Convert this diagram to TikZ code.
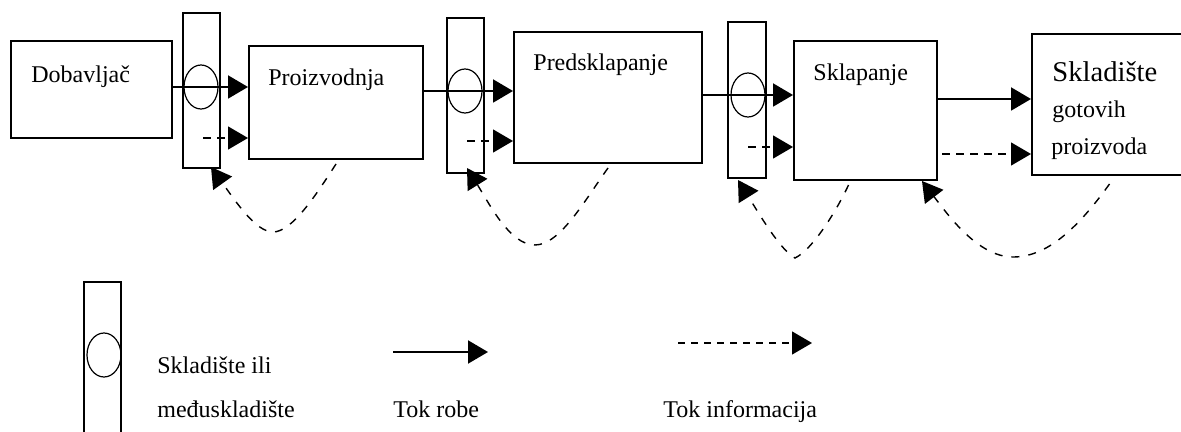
\documentclass[tikz,border=0pt]{standalone}
\usepackage{fontspec}
\setmainfont{Liberation Serif}
\usetikzlibrary{arrows.meta,shapes.geometric}
\begin{document}
\begin{tikzpicture}[x=0.5pt,y=-0.5pt,
  box/.style={draw,line width=1pt,inner sep=0pt},
  store/.style={draw,line width=1pt,inner sep=0pt,minimum width=18.5pt,minimum height=77.5pt},
  bin/.style={draw,ellipse,line width=0.6pt,inner sep=0pt,minimum width=17pt,minimum height=22pt},
  lbl/.style={anchor=base west,inner sep=0pt,font=\fontsize{12}{14}\selectfont},
  biglbl/.style={anchor=base west,inner sep=0pt,font=\fontsize{14.3}{16}\selectfont},
  goods/.style={line width=1pt,-{Triangle[length=10pt,width=11.5pt]}},
  info/.style={line width=0.7pt,dash pattern=on 4pt off 3pt,-{Triangle[length=10pt,width=11.5pt]}},
  loop/.style={line width=0.7pt,dash pattern=on 4pt off 4.5pt,-{Triangle[length=10pt,width=11.5pt]}}
]
\useasboundingbox (0,0) rectangle (1181,432);

% storages (drawn first)
\node[store] (s1) at (201.5,90.5) {};
\node[store] (s2) at (465,95.5) {};
\node[store,minimum width=19pt,minimum height=78pt] (s3) at (747,100) {};
\node[store,minimum height=79pt] (sl) at (102.5,361) {};
\node[bin] (c1) at (201,87) {};
\node[bin] (c2) at (465,91) {};
\node[bin] (c3) at (748,95) {};
\node[bin] (cl) at (104,355) {};

% process boxes
\node[box,minimum width=80.5pt,minimum height=48.5pt] (dob) at (91.5,89.5) {};
\node[box,minimum width=87pt,minimum height=56.5pt] (pro) at (336,102.5) {};
\node[box,minimum width=94pt,minimum height=65.5pt] (pre) at (608,97.5) {};
\node[box,minimum width=71.5pt,minimum height=69.5pt] (skl) at (865.5,110.5) {};
\node[box,minimum width=75.5pt,minimum height=70.5pt] (got) at (1107.5,104.5) {};

% texts
\node[lbl] (tdob) at (31,83) {Dobavljač};
\node[lbl] (tpro) at (268,86) {Proizvodnja};
\node[lbl] (tpre) at (533,71) {Predsklapanje};
\node[lbl] (tskl) at (813,81) {Sklapanje};
\node[biglbl] (tgot1) at (1052,82) {Skladište};
\node[lbl] (tgot2) at (1052,118) {gotovih};
\node[lbl] (tgot3) at (1051,155) {proizvoda};

% flow of goods
\coordinate (g4) at (0,99);
\draw[goods] (dob.east |- c1) -- (pro.west |- c1);
\draw[goods] (pro.east |- c2) -- (pre.west |- c2);
\draw[goods] (pre.east |- c3) -- (skl.west |- c3);
\draw[goods] (skl.east |- g4) -- (got.west |- g4);

% flow of information (short)
\coordinate (i1) at (203,138);
\coordinate (i2) at (467,141);
\coordinate (i3) at (748,147);
\coordinate (i4) at (942,154);
\draw[info] (i1) -- (pro.west |- i1);
\draw[info] (i2) -- (pre.west |- i2);
\draw[info] (i3) -- (skl.west |- i3);
\draw[info] (i4) -- (got.west |- i4);

% feedback loops
\coordinate (e1) at (211,167);
\coordinate (e2) at (467,168);
\coordinate (e3) at (738,180);
\coordinate (e4) at (922,181);
\draw[loop] ([yshift=-2pt]pro.south) .. controls (316,195) and (292,232) .. (273,232)
  .. controls (256,232) and (236,202) .. (e1);
\draw[loop] ([yshift=-2pt]pre.south) .. controls (585,200) and (560,245) .. (535,245)
  .. controls (510,245) and (490,205) .. (e2);
\draw[loop] ([xshift=-8.5pt,yshift=-2pt]skl.south) .. controls (836,212) and (812,250) .. (795,258)
  .. controls (780,250) and (758,212) .. (e3);
\draw[loop] ([xshift=1pt,yshift=-4pt]got.south) .. controls (1075,232) and (1045,257) .. (1013,257)
  .. controls (978,257) and (948,215) .. (e4);

% legend
\node[lbl] (l1a) at (157,373) {Skladište ili};
\node[lbl] (l1b) at (157,417) {međuskladište};
\coordinate (la) at (393,352);
\coordinate (lb) at (488,352);
\draw[goods] (la) -- (lb);
\node[lbl] (l2) at (393,417) {Tok robe};
\coordinate (lc) at (678,343);
\coordinate (ld) at (812,343);
\draw[info,dash pattern=on 3.5pt off 3pt] (lc) -- (ld);
\node[lbl] (l3) at (663,417) {Tok informacija};
\end{tikzpicture}
\end{document}
